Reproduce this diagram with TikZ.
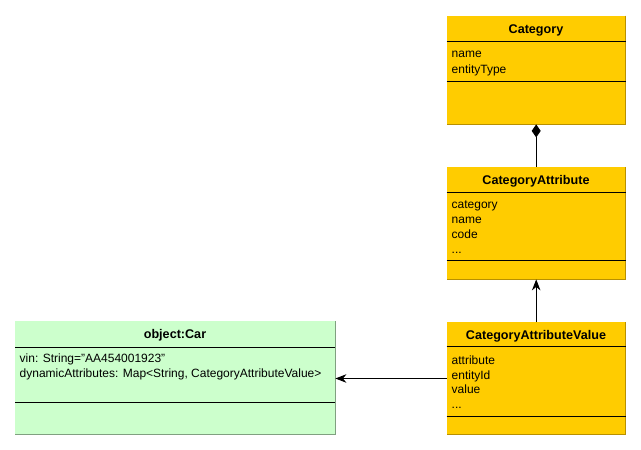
\documentclass[tikz,border=0pt]{standalone}
\usepackage{fontspec}
\setmainfont{Liberation Sans}
\usepackage{tikz}
\usetikzlibrary{arrows.meta,positioning}
\definecolor{classfill}{HTML}{FFCC00}
\definecolor{classedge}{HTML}{B89000}
\definecolor{objfill}{HTML}{CCFFCC}
\definecolor{objedge}{HTML}{80A080}
\tikzset{
  classbox/.style={fill=classfill, draw=none, inner sep=0pt, anchor=north west},
  objbox/.style={fill=objfill, draw=none, inner sep=0pt, anchor=north west},
  title/.style={anchor=base, inner sep=0pt, font=\fontsize{12.6}{15}\selectfont\bfseries},
  attr/.style={anchor=base west, inner sep=0pt, font=\fontsize{12}{15}\selectfont},
  divider/.style={line width=0.9pt, black},
  assoc/.style={line width=0.9pt, -{Stealth[length=11pt,width=8.5pt,inset=3.5pt]}},
  compo/.style={line width=0.9pt, {Diamond[length=13pt,width=9pt]}-}
}
\begin{document}
\begin{tikzpicture}[x=1pt,y=-1pt]
\useasboundingbox (0,0) rectangle (641,450);
\fill[white] (0,0) rectangle (641,450);

% boxes
\node[classbox, minimum width=179pt, minimum height=108.5pt] (category) at (446.5,15.5) {};
\node[classbox, minimum width=179pt, minimum height=112pt] (catAttr) at (446.5,167) {};
\node[classbox, minimum width=179pt, minimum height=112pt] (catAttrValue) at (446.5,322) {};
\node[objbox, minimum width=320pt, minimum height=113pt] (car) at (15,321) {};

% shaded right and bottom edges
\draw[classedge, line width=1pt] (category.north east) -- (category.south east) -- (category.south west);
\draw[classedge, line width=1pt] (catAttr.north east) -- (catAttr.south east) -- (catAttr.south west);
\draw[classedge, line width=1pt] (catAttrValue.north east) -- (catAttrValue.south east) -- (catAttrValue.south west);
\draw[objedge, line width=1pt] (car.north east) -- (car.south east) -- (car.south west);

% compartments
\draw[divider] (446.5,41.5) -- (625.5,41.5);
\draw[divider] (446.5,81.5) -- (625.5,81.5);
\draw[divider] (446.5,192.5) -- (625.5,192.5);
\draw[divider] (446.5,260.5) -- (625.5,260.5);
\draw[divider] (446.5,346.5) -- (625.5,346.5);
\draw[divider] (446.5,416.5) -- (625.5,416.5);
\draw[divider] (15,347) -- (335,347);
\draw[divider] (15,402) -- (335,402);

% titles
\node[title] (categoryTitle) at (536,33) {Category};
\node[title] (catAttrTitle) at (536,184) {CategoryAttribute};
\node[title] (catAttrValueTitle) at (536,339) {CategoryAttributeValue};
\node[title] (carTitle) at (175,338) {object:Car};

% attributes
\node[attr] (categoryName) at (451.5,57.5) {name};
\node[attr] (categoryType) at (451.5,73) {entityType};

\node[attr] (catAttrCategory) at (451.5,208) {category};
\node[attr] (catAttrName) at (451.5,223) {name};
\node[attr] (catAttrCode) at (451.5,238) {code};
\node[attr] (catAttrMore) at (451.5,253) {...};

\node[attr] (cavAttribute) at (451.5,364) {attribute};
\node[attr] (cavEntity) at (451.5,379) {entityId};
\node[attr] (cavValue) at (451.5,393.5) {value};
\node[attr] (cavMore) at (451.5,408) {...};

\node[attr] (carVin) at (19.5,362.5) {vin: String=\char34 AA454001923\char34};
\node[attr] (carDyn) at (19.5,377.5) {dynamicAttributes: Map<String, CategoryAttributeValue>};

% relations
\coordinate (cavLeft) at (446.5,378.5);
\draw[compo] (category.south) -- (catAttr.north);
\draw[assoc] (catAttrValue.north) -- (catAttr.south);
\draw[assoc] (cavLeft) -- (car.east |- cavLeft);
\end{tikzpicture}
\end{document}
